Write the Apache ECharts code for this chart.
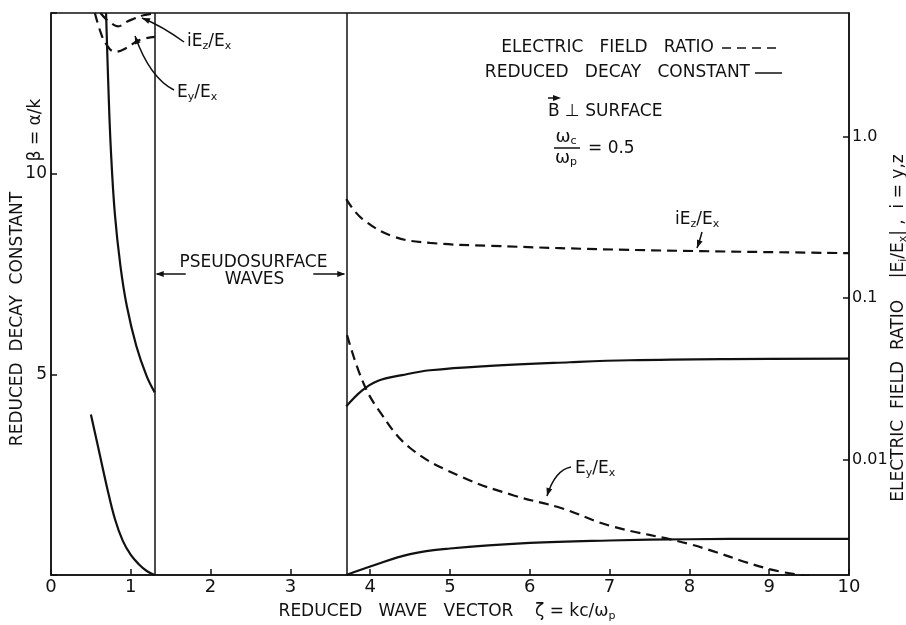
<!DOCTYPE html>
<html>
<head>
<meta charset="utf-8">
<script src="https://cdn.jsdelivr.net/npm/echarts@6/dist/echarts.min.js"></script>
<style>
html,body{margin:0;padding:0;background:#fff}
#chart{width:906px;height:625px}
</style>
</head>
<body>
<div id="chart"></div>
<script>
// axis ticks
var leftTickValues = [5, 10];
var rightTickValues = [0.01, 0.1, 1];
var rightTickLabels = ['0.01', '0.1', '1.0'];
// borders of the pseudosurface wave band
var bandEdges = [1.3, 3.7];

// reduced decay constant beta (left axis), [zeta, beta]
var decayLowLeft = [[0.5,4.0],[0.6,3.1],[0.7,2.2],[0.8,1.4],[0.9,0.85],[1.0,0.5],[1.1,0.27],[1.2,0.1],[1.3,0]];
var decayHighLeft = [[0.69,14],[0.72,12.1],[0.75,10.6],[0.8,9.0],[0.87,7.7],[0.95,6.7],[1.07,5.7],[1.2,4.95],[1.3,4.55]];
var decayLowRight = [[3.7,0],[4.0,0.21],[4.5,0.52],[5.0,0.66],[6.0,0.8],[7.0,0.86],[8.0,0.89],[9.0,0.9],[10,0.9]];
var decayHighRight = [[3.7,4.2],[3.9,4.6],[4.1,4.84],[4.4,4.98],[4.75,5.1],[5.5,5.21],[6.5,5.3],[7.25,5.35],[8.5,5.38],[10,5.39]];

// electric field ratios (right log axis), [zeta, ratio]
var ezLeft = [[0.62,5.83],[0.68,5.4],[0.74,5.1],[0.84,4.82],[0.95,5.15],[1.03,5.35],[1.16,5.65],[1.3,5.8]];
var eyLeft = [[0.55,5.83],[0.62,4.45],[0.69,3.75],[0.8,3.35],[0.95,3.55],[1.1,3.95],[1.3,4.15]];
var ezRight = [[3.7,0.41],[3.9,0.31],[4.3,0.24],[4.75,0.22],[5.5,0.211],[7.25,0.199],[10,0.19]];
var eyRight = [[3.71,0.059],[3.9,0.031],[4.1,0.0205],[4.5,0.0118],[5.15,0.0078],[5.8,0.006],[6.4,0.005],[7,0.0039],[8,0.003],[9,0.0021],[9.5,0.0019]];

var INK = '#111';
var FONT = 'DejaVu Sans';
var SUB = {fontSize: 11, fill: INK, fontFamily: FONT, padding: [8, 0, 0, 0]};

var chart = echarts.init(document.getElementById('chart'));

function curve(name, data, axis, dashed) {
    return {
        name: name,
        type: 'line',
        data: data,
        yAxisIndex: axis,
        showSymbol: false,
        symbol: 'none',
        smooth: 0.4,
        silent: true,
        animation: false,
        lineStyle: {color: INK, width: 2.2, type: dashed ? [10, 6] : 'solid'}
    };
}

var seriesList = [
    curve('decayLowLeft', decayLowLeft, 0, false),
    curve('decayHighLeft', decayHighLeft, 0, false),
    curve('decayLowRight', decayLowRight, 0, false),
    curve('decayHighRight', decayHighRight, 0, false),
    curve('ezLeft', ezLeft, 1, true),
    curve('eyLeft', eyLeft, 1, true),
    curve('ezRight', ezRight, 1, true),
    curve('eyRight', eyRight, 1, true)
];
// vertical borders of the band
seriesList[0].markLine = {
    silent: true,
    symbol: ['none', 'none'],
    label: {show: false},
    lineStyle: {color: INK, width: 1.5, type: 'solid'},
    data: bandEdges.map(function (v) { return {xAxis: v}; })
};

var axisLine = {show: true, lineStyle: {color: INK, width: 1.5}};
var axisTick = {show: true, inside: true, length: 6, lineStyle: {color: INK, width: 1.5}};

chart.setOption({
    backgroundColor: '#fff',
    animation: false,
    grid: {left: 51, right: 57, top: 13, bottom: 50, show: true, borderColor: INK, borderWidth: 1.5},
    xAxis: {
        type: 'value', min: 0, max: 10, interval: 1,
        axisLine: axisLine, axisTick: axisTick, splitLine: {show: false},
        axisLabel: {color: INK, fontSize: 18, fontFamily: FONT, margin: 3}
    },
    yAxis: [{
        type: 'value', min: 0, max: 14, interval: 5,
        axisLine: axisLine, axisTick: axisTick, splitLine: {show: false},
        axisLabel: {
            color: INK, fontSize: 17, fontFamily: FONT, margin: 4,
            formatter: function (v) { return leftTickValues.indexOf(v) >= 0 ? String(v) : ''; }
        }
    }, {
        type: 'log', logBase: 10, min: 0.00193, max: 5.83, position: 'right',
        axisLine: axisLine, axisTick: axisTick, splitLine: {show: false},
        minorTick: {show: false},
        axisLabel: {
            color: INK, fontSize: 16, fontFamily: FONT, margin: 3,
            showMinLabel: false, showMaxLabel: false,
            formatter: function (v) {
                for (var i = 0; i < rightTickValues.length; i++) {
                    if (Math.abs(Math.log10(v) - Math.log10(rightTickValues[i])) < 1e-6) return rightTickLabels[i];
                }
                return '';
            }
        }
    }],
    series: seriesList
});

// ---------- annotations
function txt(x, y, text, size, align, rotation) {
    return {
        type: 'text', x: x, y: y, rotation: rotation || 0, silent: true,
        style: {
            text: text, fill: INK, fontSize: size, fontFamily: FONT,
            align: align || 'left', verticalAlign: 'middle',
            rich: {s: SUB}
        }
    };
}
function seg(x1, y1, x2, y2, dash) {
    return {type: 'line', silent: true, shape: {x1: x1, y1: y1, x2: x2, y2: y2},
        style: {stroke: INK, lineWidth: 1.5, lineDash: dash || null}};
}
function head(tx, ty, fx, fy) {
    var a = Math.atan2(ty - fy, tx - fx), len = 8, w = 3;
    var bx = tx - len * Math.cos(a), by = ty - len * Math.sin(a);
    return {type: 'polygon', silent: true, shape: {points: [
        [tx, ty],
        [bx + w * Math.sin(a), by - w * Math.cos(a)],
        [bx - w * Math.sin(a), by + w * Math.cos(a)]
    ]}, style: {fill: INK}};
}
function leader(x1, y1, cx, cy, x2, y2) {
    return [
        {type: 'bezierCurve', silent: true, shape: {x1: x1, y1: y1, cpx1: cx, cpy1: cy, x2: x2, y2: y2},
            style: {stroke: INK, lineWidth: 1.5, fill: null}},
        head(x2, y2, cx, cy)
    ];
}

var xa = chart.convertToPixel({xAxisIndex: 0}, bandEdges[0]);
var xb = chart.convertToPixel({xAxisIndex: 0}, bandEdges[1]);
var midBand = (xa + xb) / 2;

var g = [
    // axis titles
    txt(447, 612, 'REDUCED   WAVE   VECTOR    \u03b6 = kc/\u03c9{s|p}', 17, 'center'),
    txt(18, 319, 'REDUCED  DECAY  CONSTANT', 17, 'center', Math.PI / 2),
    txt(36, 130, '\u03b2 = \u03b1/k', 17, 'center', Math.PI / 2),
    txt(899, 328, 'ELECTRIC  FIELD  RATIO    |E{s|i}/E{s|x}| ,  i = y,z', 17, 'center', Math.PI / 2),
    // key
    txt(714, 48, 'ELECTRIC   FIELD   RATIO', 17, 'right'),
    seg(722, 48, 782, 48, [9, 6]),
    txt(750, 73, 'REDUCED   DECAY   CONSTANT', 17, 'right'),
    seg(755, 73, 782, 73),
    // B perpendicular to surface
    txt(548, 112, 'B \u22a5 SURFACE', 17, 'left'),
    seg(548, 98, 558, 98),
    head(561, 98, 548, 98),
    txt(566, 137, '\u03c9{s|c}', 18, 'center'),
    seg(554, 148, 580, 148),
    txt(566, 158, '\u03c9{s|p}', 18, 'center'),
    txt(588, 149, '= 0.5', 17, 'left'),
    // pseudosurface band
    txt(midBand + 3, 263, 'PSEUDOSURFACE', 17, 'center'),
    txt(midBand + 4, 280, 'WAVES', 17, 'center'),
    seg(xa + 31, 274, xa + 2, 274),
    head(xa + 1, 274, xa + 20, 274),
    seg(xb - 33, 274, xb - 2, 274),
    head(xb - 1, 274, xb - 20, 274),
    // curve labels
    txt(187, 42, 'iE{s|z}/E{s|x}', 17, 'left'),
    txt(177, 93, 'E{s|y}/E{s|x}', 17, 'left'),
    txt(675, 220, 'iE{s|z}/E{s|x}', 17, 'left'),
    txt(575, 469, 'E{s|y}/E{s|x}', 17, 'left')
];
g = g.concat(
    leader(184, 42, 162, 26, 142, 18),
    leader(174, 90, 150, 78, 135, 36),
    leader(702, 232, 700, 240, 697, 248),
    leader(571, 467, 555, 470, 547, 496)
);

chart.setOption({graphic: {elements: g}});
</script>
</body>
</html>
